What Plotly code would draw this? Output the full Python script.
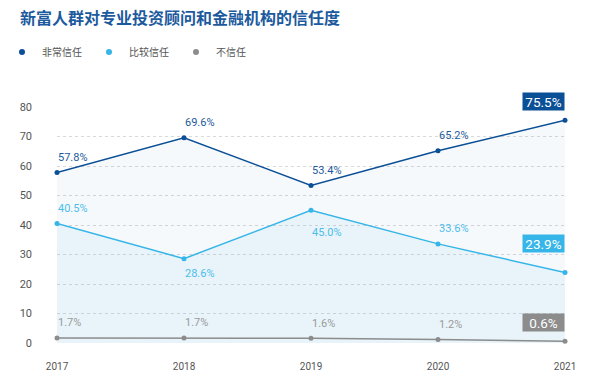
import plotly.graph_objects as go

years = [2017, 2018, 2019, 2020, 2021]
very_trust = [57.8, 69.6, 53.4, 65.2, 75.5]
fairly_trust = [40.5, 28.6, 45.0, 33.6, 23.9]
no_trust = [1.7, 1.7, 1.6, 1.2, 0.6]
series_names = ["非常信任", "比较信任", "不信任"]
y_ticks = [0, 10, 20, 30, 40, 50, 60, 70, 80]
title_text = "新富人群对专业投资顾问和金融机构的信任度"

colors = ["#0b4f96", "#36b5e8", "#8c8c8c"]
label_colors = ["#1b5a9c", "#4cbdeb", "#9a9a9a"]
fills = ["rgba(11,79,150,0.035)", "rgba(54,181,232,0.07)", "rgba(0,0,0,0)"]
series = [very_trust, fairly_trust, no_trust]

fig = go.Figure()
for name, vals, c, f in zip(series_names, series, colors, fills):
    fig.add_trace(go.Scatter(
        x=years, y=vals, mode="lines+markers", name=name,
        line=dict(color=c, width=1.5), marker=dict(size=5, color=c),
        fill="tozeroy", fillcolor=f, cliponaxis=False, showlegend=False,
        hoverinfo="skip"))
# legend-only entries (dot markers)
for name, c in zip(series_names, colors):
    fig.add_trace(go.Scatter(x=[None], y=[None], mode="markers", name=name,
                             marker=dict(size=6, color=c)))

# data labels: vertical offsets (px); negative = below the point
label_shift = {(1, 1): -15, (1, 2): -22}
for si, vals in enumerate(series):
    for pi, (x, v) in enumerate(zip(years, vals)):
        if pi == len(years) - 1:
            continue
        shift = label_shift.get((si, pi), 15)
        fig.add_annotation(x=x, y=v, text=f"{v:.1f}%", showarrow=False,
                           xanchor="left", yanchor="middle", yshift=shift, xshift=-1,
                           font=dict(size=11, color=label_colors[si], family="Roboto"))

# boxed last values
box_shift = [9, 20, 9]
for si, vals in enumerate(series):
    fig.add_annotation(x=years[-1], y=vals[-1], text=f"{vals[-1]:.1f}%", showarrow=False,
                       xanchor="right", yanchor="bottom", yshift=box_shift[si], xshift=0,
                       bgcolor=colors[si], borderpad=0, width=41, height=17, align="center",
                       font=dict(size=13.5, color="white", family="Roboto"))

fig.update_layout(
    width=592, height=384,
    margin=dict(l=57, r=27, t=107, b=38),
    paper_bgcolor="white", plot_bgcolor="white",
    font=dict(family="Roboto, Noto Sans CJK SC", color="#555555", size=10),
    title=dict(text=f"<b>{title_text}</b>", x=20/592, xanchor="left", xref="container",
               y=1 - 18/384, yanchor="middle", yref="container",
               font=dict(size=16, color="#1c5a9e", family="Noto Sans CJK SC")),
    legend=dict(orientation="h", xref="container", yref="container",
                x=2/592, xanchor="left", y=1 - 52/384, yanchor="middle",
                entrywidth=42, entrywidthmode="pixels", itemwidth=30,
                font=dict(size=10, color="#555555", family="Noto Sans CJK SC")),
    xaxis=dict(range=[2017, 2021], tickvals=years, ticktext=[str(y) for y in years],
               showgrid=False, zeroline=False, showline=False, ticks="",
               ticklabelstandoff=16, tickfont=dict(size=10, color="#555555")),
    yaxis=dict(range=[0, 80], tickvals=y_ticks, showgrid=True, gridcolor="#d9d9d9",
               griddash="3px,3px", gridwidth=1, zeroline=False, showline=False, ticks="",
               ticklabelstandoff=24, tickfont=dict(size=11, color="#555555")),
)
fig.write_html("out.html", config={"displayModeBar": False},
               post_script="document.body.style.margin='0';")
